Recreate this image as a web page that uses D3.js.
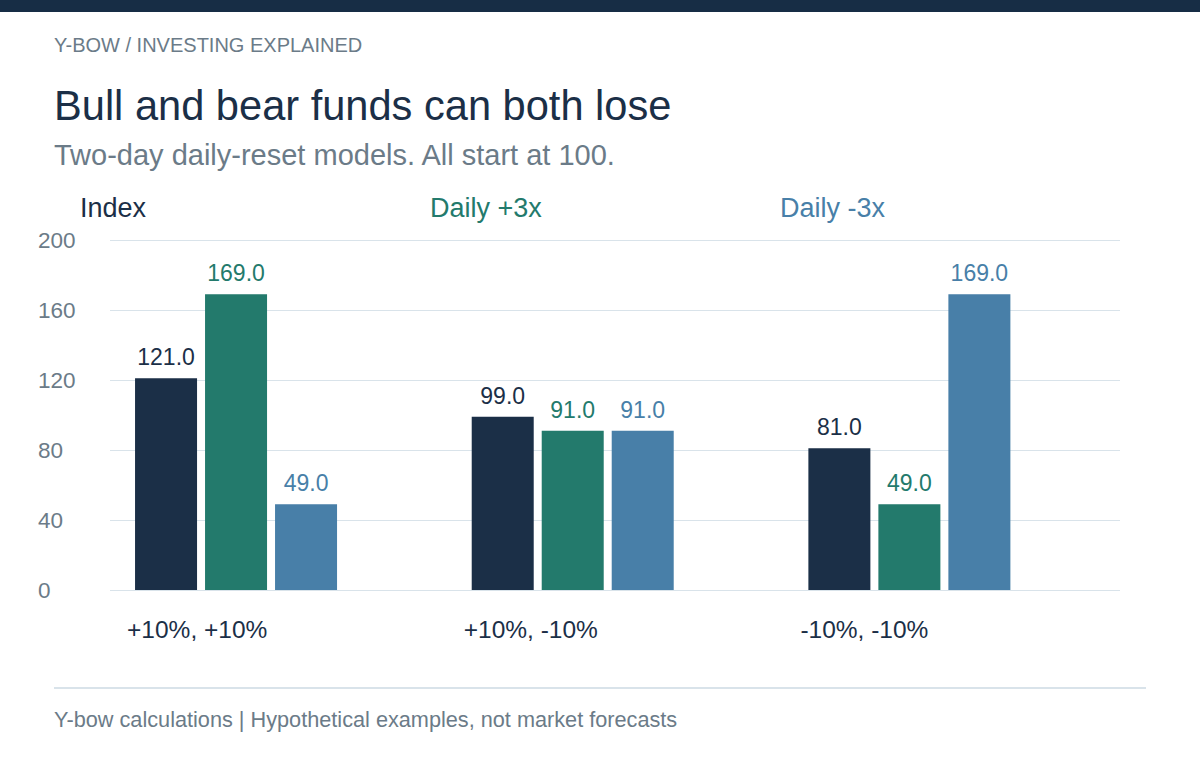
<!DOCTYPE html>
<html>
<head>
<meta charset="utf-8">
<script src="https://cdn.jsdelivr.net/npm/d3@7"></script>
<style>
  html, body { margin: 0; padding: 0; background: #ffffff; }
  svg { display: block; font-family: "Liberation Sans", Arial, Helvetica, sans-serif; }
</style>
</head>
<body>
<svg id="chart" width="1200" height="760"></svg>
<script>
const categories = ["+10%, +10%", "+10%, -10%", "-10%, -10%"];
const seriesNames = ["Index", "Daily +3x", "Daily -3x"];
const indexValues = [121.0, 99.0, 81.0];
const bullValues = [169.0, 91.0, 49.0];
const bearValues = [49.0, 91.0, 169.0];
const yTicks = [0, 40, 80, 120, 160, 200];
const seriesColors = ["#1b2f47", "#237a6c", "#487fa8"];

const seriesValues = [indexValues, bullValues, bearValues];
const rows = categories.map((c, i) => ({
  cat: c,
  vals: seriesNames.map((s, j) => ({ key: s, value: seriesValues[j][i], color: seriesColors[j] }))
}));

const svg = d3.select("#chart");

// top bar
svg.append("rect").attr("x", 0).attr("y", 0).attr("width", 1200).attr("height", 12).attr("fill", "#172d45");

// header texts
svg.append("text").attr("x", 54).attr("y", 52).attr("font-size", 20).attr("fill", "#6b7b88")
  .text("Y-BOW / INVESTING EXPLAINED");
svg.append("text").attr("x", 54).attr("y", 120).attr("font-size", 41.6).attr("fill", "#1b2f47")
  .text("Bull and bear funds can both lose");
svg.append("text").attr("x", 54).attr("y", 165).attr("font-size", 29).attr("fill", "#6b7b88")
  .text("Two-day daily-reset models. All start at 100.");

// legend
const legendX = d3.scalePoint().domain(seriesNames).range([80, 780]);
svg.append("g").selectAll("text").data(seriesNames).join("text")
  .attr("x", d => legendX(d)).attr("y", 217).attr("font-size", 27)
  .attr("fill", (d, i) => seriesColors[i]).text(d => d);

// scales
const y = d3.scaleLinear().domain([0, 200]).range([590, 240]);
const x0 = d3.scaleBand().domain(categories).range([110, 1120])
  .paddingInner(0.4).paddingOuter(0.2).align(0.186);
const x1 = d3.scaleBand().domain(seriesNames).range([0, x0.bandwidth()])
  .paddingInner(8 / 70).paddingOuter(0);

// gridlines + y labels
const yAxis = d3.axisLeft(y).tickValues(yTicks).tickSize(-(1120 - 110)).tickFormat(d3.format("d"));
const gy = svg.append("g").attr("transform", "translate(110,0)").call(yAxis);
gy.select(".domain").remove();
gy.selectAll(".tick line").attr("stroke", "#d9e3ea").attr("stroke-width", 1);
gy.selectAll(".tick text").attr("x", 38 - 110).attr("text-anchor", "start")
  .attr("font-size", 22.5).attr("fill", "#6b7b88").attr("font-family", "Liberation Sans, Arial, sans-serif");

// bars
const groups = svg.append("g").selectAll("g").data(rows).join("g")
  .attr("transform", d => `translate(${x0(d.cat)},0)`);
groups.selectAll("rect").data(d => d.vals).join("rect")
  .attr("x", d => x1(d.key)).attr("width", x1.bandwidth())
  .attr("y", d => y(d.value)).attr("height", d => y(0) - y(d.value))
  .attr("fill", d => d.color);
groups.selectAll("text.val").data(d => d.vals).join("text").attr("class", "val")
  .attr("x", d => x1(d.key) + x1.bandwidth() / 2).attr("y", d => y(d.value) - 13)
  .attr("text-anchor", "middle").attr("font-size", 23).attr("fill", d => d.color)
  .text(d => d3.format(".1f")(d.value));

// category labels
const xAxis = d3.axisBottom(x0).tickSize(0);
const gx = svg.append("g").attr("transform", "translate(0,590)").call(xAxis);
gx.select(".domain").remove();
gx.selectAll(".tick text").attr("x", -x0.bandwidth() / 2 - 8).attr("y", 0).attr("dy", 48)
  .attr("text-anchor", "start").attr("font-size", 24.5).attr("fill", "#1b2f47")
  .attr("font-family", "Liberation Sans, Arial, sans-serif");

// footer
svg.append("rect").attr("x", 54).attr("y", 687).attr("width", 1092).attr("height", 2).attr("fill", "#d9e3ea");
svg.append("text").attr("x", 54).attr("y", 727).attr("font-size", 21.7).attr("fill", "#6b7b88")
  .text("Y-bow calculations | Hypothetical examples, not market forecasts");
</script>
</body>
</html>
